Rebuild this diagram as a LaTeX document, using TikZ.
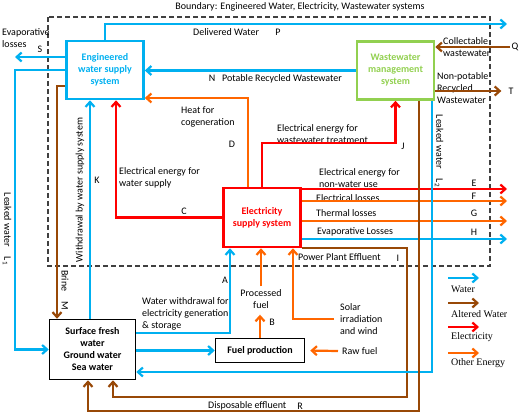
\documentclass[tikz,border=0pt]{standalone}
\usepackage{fontspec}
\setmainfont{Carlito}
\newfontfamily\legendfont{Liberation Serif}
\usetikzlibrary{arrows.meta}
\definecolor{waterblue}{RGB}{0,176,240}
\definecolor{alteredbrown}{RGB}{152,72,7}
\definecolor{otherorange}{RGB}{255,102,0}
\definecolor{wwgreen}{RGB}{146,208,80}
\begin{document}
\begin{tikzpicture}[x=1pt,y=-1pt]
\tikzstyle{box_style} = [draw, line width=2.6, minimum width=77, minimum height=58, inner sep=0, align=center, font=\bfseries]
\tikzstyle{label_style} = [inner sep=1, align=left, anchor=west]
\tikzstyle{letter_style} = [inner sep=1]
\tikzstyle{legend_style} = [inner sep=1, anchor=west, font=\legendfont]
\tikzstyle{boundary_style} = [black!75, line width=1.1, dash pattern=on 5pt off 3pt]
\tikzstyle{water_edge} = [waterblue, line width=2.2, -{Straight Barb[length=5pt,width=9pt]}]
\tikzstyle{altered_edge} = [alteredbrown, line width=2.2, -{Straight Barb[length=5pt,width=9pt]}]
\tikzstyle{elec_edge} = [red, line width=2.2, -{Straight Barb[length=5pt,width=9pt]}]
\tikzstyle{other_edge} = [otherorange, line width=2.2, -{Straight Barb[length=5pt,width=9pt]}]
    \useasboundingbox (0,0) rectangle (520,415);
    \draw[boundary_style] (48,17) rectangle (490,266);

    \node[box_style, draw=waterblue, text=waterblue] (ews) at (105,70) {Engineered\\water supply\\system};
    \node[box_style, draw=wwgreen, text=wwgreen] (wms) at (395.5,70.5) {Wastewater\\management\\system};
    \node[box_style, draw=red, text=red, minimum height=59] (elec) at (262,217.5) {Electricity\\supply system};
    \node[box_style, line width=1.5, minimum width=86, minimum height=60] (sws) at (92.5,349.5) {Surface fresh\\water\\Ground water\\Sea water};
    \node[box_style, line width=1.5, minimum width=89, minimum height=24] (fuel) at (260,350.5) {Fuel production};

    \node (boundary) at (300,7) {Boundary: Engineered Water, Electricity, Wastewater systems};
    \node[label_style] (evap) at (1,38) {Evaporative\\losses};
    \node[letter_style] (s) at (40,49) {S};
    \node[label_style] (delivered) at (192,32) {Delivered Water};
    \node[letter_style] (p) at (278,32) {P};
    \node[letter_style] (n) at (212,78) {N};
    \node[label_style] (potable) at (221,79) {Potable Recycled Wastewater};
    \node[label_style] (collect) at (442,47) {Collectable\\wastewater};
    \node[letter_style] (q) at (515,47) {Q};
    \node[label_style] (nonpotable) at (436,88) {Non-potable\\Recycled\\Wastewater};
    \node[letter_style] (t) at (511,91) {T};
    \node[label_style] (heat) at (180,117) {Heat for\\cogeneration};
    \node[letter_style] (d) at (232,144) {D};
    \node[label_style] (ewater) at (118,178) {Electrical energy for\\water supply};
    \node[letter_style] (c) at (184,211) {C};
    \node[letter_style] (k) at (97,180) {K};
    \node[rotate=90] (withdrawal) at (80,190) {Withdrawal by water supply system};
    \node[rotate=-90] (leak1) at (7,229) {Leaked water\quad L\textsubscript{1}};
    \node[rotate=-90] (brine) at (65,290) {Brine\quad M};
    \node[label_style] (ewaste) at (276,134) {Electrical energy for\\wastewater treatment};
    \node[letter_style] (j) at (403,146) {J};
    \node[rotate=-90] (leak2) at (439,151) {Leaked water\quad L\textsubscript{2}};
    \node[label_style] (enonwater) at (318,178) {Electrical energy for\\non-water use};
    \node[label_style] (elosses) at (315,198) {Electrical losses};
    \node[label_style] (tlosses) at (315,213) {Thermal losses};
    \node[label_style] (evlosses) at (316,232) {Evaporative Losses};
    \node[letter_style] (e) at (474,183) {E};
    \node[letter_style] (f) at (474,196) {F};
    \node[letter_style] (g) at (474,213) {G};
    \node[letter_style] (h) at (474,232) {H};
    \node[label_style] (effluent) at (297,257) {Power Plant Effluent};
    \node[letter_style] (i) at (398,258) {I};
    \node[letter_style] (a) at (225,280) {A};
    \node[label_style] (withdraw) at (141,314) {Water withdrawal for\\electricity generation\\\& storage};
    \node[align=center, inner sep=3] (processed) at (261,299) {Processed\\fuel};
    \node[letter_style] (b) at (272,322) {B};
    \node[label_style, inner xsep=6] (solar) at (334,319) {Solar\\irradiation\\and wind};
    \node[label_style, inner xsep=4] (raw) at (338,351) {Raw fuel};
    \node[label_style] (disposable) at (207,406) {Disposable effluent};
    \node[letter_style] (r) at (300,406) {R};

    % water supply system
    \coordinate (p_end) at (507,24);
    \draw[water_edge] (ews.north) |- (p_end);
    \coordinate (s_end) at (15,57);
    \draw[water_edge] (ews.west |- s_end) -- (s_end);
    \coordinate (l1_corner) at (15,200);
    \draw[water_edge] (ews.west) -| (l1_corner) |- (sws.west);
    \coordinate (brine_corner) at (57,86);
    \draw[altered_edge] (ews.west |- brine_corner) -| (sws.north -| brine_corner);
    \coordinate (k_line) at (90,200);
    \draw[water_edge] (sws.north -| k_line) -- (ews.south -| k_line);
    \draw[water_edge] (wms.west) -- (ews.east |- wms.west);

    % electricity supply system
    \coordinate (c_line) at (116,150);
    \draw[elec_edge] (elec.west) -| (ews.south -| c_line);
    \coordinate (d_corner) at (248,98);
    \draw[other_edge] (elec.north -| d_corner) |- (ews.east |- d_corner);
    \coordinate (j_corner) at (330,143);
    \draw[elec_edge] (elec.north) |- (j_corner) -| (wms.south);
    \coordinate (e_end) at (507,189);
    \coordinate (f_end) at (507,201);
    \coordinate (g_end) at (507,221);
    \coordinate (h_end) at (507,239);
    \draw[elec_edge] (elec.east |- e_end) -- (e_end);
    \draw[other_edge] (elec.east |- f_end) -- (f_end);
    \draw[other_edge] (elec.east |- g_end) -- (g_end);
    \draw[water_edge] (elec.east |- h_end) -- (h_end);
    \coordinate (i_corner) at (407,397);
    \coordinate (i_left) at (113,397);
    \draw[altered_edge] (elec.south east) -| (i_corner) -- (i_left) -- (sws.south -| i_left);
    \coordinate (a_corner) at (230,333);
    \draw[water_edge] (sws.east |- a_corner) -| (elec.south -| a_corner);
    \draw[other_edge, shorten >=3] (fuel.north) -- (processed.south -| fuel.north);
    \draw[other_edge] (processed.north) -- (elec.south -| processed.north);
    \coordinate (solar_line) at (293,319);
    \draw[other_edge] (solar.west) -| (elec.south -| solar_line);
    \draw[other_edge, shorten >=5] (raw.west) -- (fuel.east);
    \draw[water_edge] (sws.east |- fuel.west) -- (fuel.west);

    % wastewater management system
    \draw[altered_edge] (q.west) -- (wms.east |- q.west);
    \draw[altered_edge, shorten >=6] (wms.east |- t.west) -- (t.west);
    \coordinate (l2_corner) at (432,372);
    \draw[water_edge] (wms.south -| l2_corner) |- (sws.east |- l2_corner);
    \coordinate (r_corner) at (419,411);
    \coordinate (r_left) at (88,411);
    \draw[altered_edge] (wms.south -| r_corner) |- (r_left) -- (sws.south -| r_left);

    % legend
    \coordinate (leg_water) at (448,278);
    \coordinate (leg_water_tip) at (479,278);
    \coordinate (leg_altered) at (448,303);
    \coordinate (leg_altered_tip) at (479,303);
    \coordinate (leg_elec) at (448,327);
    \coordinate (leg_elec_tip) at (479,327);
    \coordinate (leg_other) at (448,353);
    \coordinate (leg_other_tip) at (479,353);
    \draw[water_edge] (leg_water) -- (leg_water_tip);
    \draw[altered_edge] (leg_altered) -- (leg_altered_tip);
    \draw[elec_edge] (leg_elec) -- (leg_elec_tip);
    \draw[other_edge] (leg_other) -- (leg_other_tip);
    \node[legend_style] (leg_water_text) at (450,289) {Water};
    \node[legend_style] (leg_altered_text) at (450,314) {Altered Water};
    \node[legend_style] (leg_elec_text) at (450,337) {Electricity};
    \node[legend_style] (leg_other_text) at (450,363) {Other Energy};
\end{tikzpicture}
\end{document}
